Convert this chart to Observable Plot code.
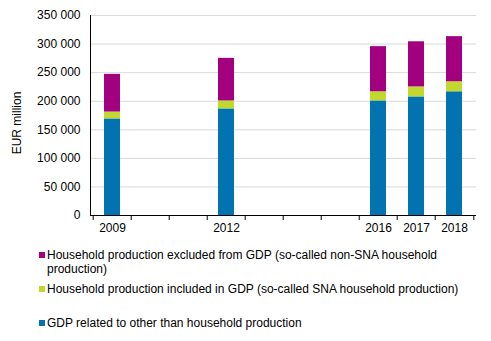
<!DOCTYPE html>
<html><head><meta charset="utf-8">
<script src="https://cdn.jsdelivr.net/npm/d3@7"></script>
<script src="https://cdn.jsdelivr.net/npm/@observablehq/plot@0.6"></script>
<style>
body{margin:0;background:#fff;font-family:"Liberation Sans",Arial,sans-serif;}
#legend{position:relative;width:491px;height:101px;font-size:12px;color:#000;margin-top:8px}
.item{position:absolute;left:47px;width:430px;line-height:14px}
.sw{position:absolute;left:-8px;top:4px;width:6px;height:6px}
</style></head><body>
<div id="chart"></div>
<div id="legend"></div>
<script>
const slots = [2009, 2010, 2011, 2012, 2013, 2014, 2015, 2016, 2017, 2018];
const years = [2009, 2012, 2016, 2017, 2018];
const seriesNames = [
  "GDP related to other than household production",
  "Household production included in GDP (so-called SNA household production)",
  "Household production excluded from GDP (so-called non-SNA household production)"
];
const otherGdp = [169000, 186500, 200500, 207500, 216500];
const snaHousehold = [12000, 14000, 16000, 17500, 17500];
const nonSnaHousehold = [66000, 74500, 79000, 79000, 79000];
const colors = ["#0073b0", "#c1d82f", "#a2007e"];
const yTicks = [0, 50000, 100000, 150000, 200000, 250000, 300000, 350000];
const yTitle = "EUR million";

const seriesValues = [otherGdp, snaHousehold, nonSnaHousehold];
const table = [];
years.forEach((yr, i) => seriesValues.forEach((vals, s) => table.push({year: yr, series: seriesNames[s], value: vals[i]})));

const W = 491, ML = 90, MR = 15;
const step = (W - ML - MR) / slots.length;
const fmt = d => d3.format(",")(d).replace(/,/g, " ");

const chart = Plot.plot({
  width: W, height: 240,
  marginLeft: ML, marginRight: MR, marginTop: 15, marginBottom: 25,
  style: {fontFamily: '"Liberation Sans", Arial, sans-serif', fontSize: "12px", color: "#000", background: "#fff"},
  x: {type: "band", domain: slots, paddingInner: 0.585, paddingOuter: 0.2925, label: null},
  y: {domain: [0, 350000], label: null},
  color: {domain: seriesNames, range: colors},
  marks: [
    Plot.gridY(yTicks, {stroke: "#d9d9d9", strokeOpacity: 1}),
    Plot.barY(table, {x: "year", y: "value", fill: "series", order: seriesNames}),
    Plot.ruleY([0], {stroke: "#000"}),
    Plot.frame({anchor: "left", stroke: "#000"}),
    Plot.axisY(yTicks, {tickSize: 0, tickPadding: 10, tickFormat: fmt, label: null, fill: "#000"}),
    Plot.text([yTitle], {frameAnchor: "left", textAnchor: "middle", rotate: -90, lineAnchor: "bottom", dx: -70, dy: 7.5, fontSize: 12, fill: "#000"}),
    Plot.axisX(years, {tickSize: 0, tickPadding: 8, tickFormat: d => String(d), fill: "#000", label: null}),
    Plot.axisX(slots, {tickSize: 5, tickFormat: () => "", dx: -step / 2, stroke: "#000", label: null}),
    Plot.axisX([slots[slots.length - 1]], {tickSize: 5, tickFormat: () => "", dx: step / 2, stroke: "#000", label: null})
  ]
});
document.getElementById("chart").appendChild(chart);

const legend = document.getElementById("legend");
const order = [2, 1, 0];
order.forEach((s, k) => {
  const it = document.createElement("div");
  it.className = "item";
  it.style.top = (k * 34) + "px";
  const sw = document.createElement("span");
  sw.className = "sw";
  sw.style.background = colors[s];
  it.appendChild(sw);
  it.appendChild(document.createTextNode(seriesNames[s]));
  legend.appendChild(it);
});
</script>
</body></html>
